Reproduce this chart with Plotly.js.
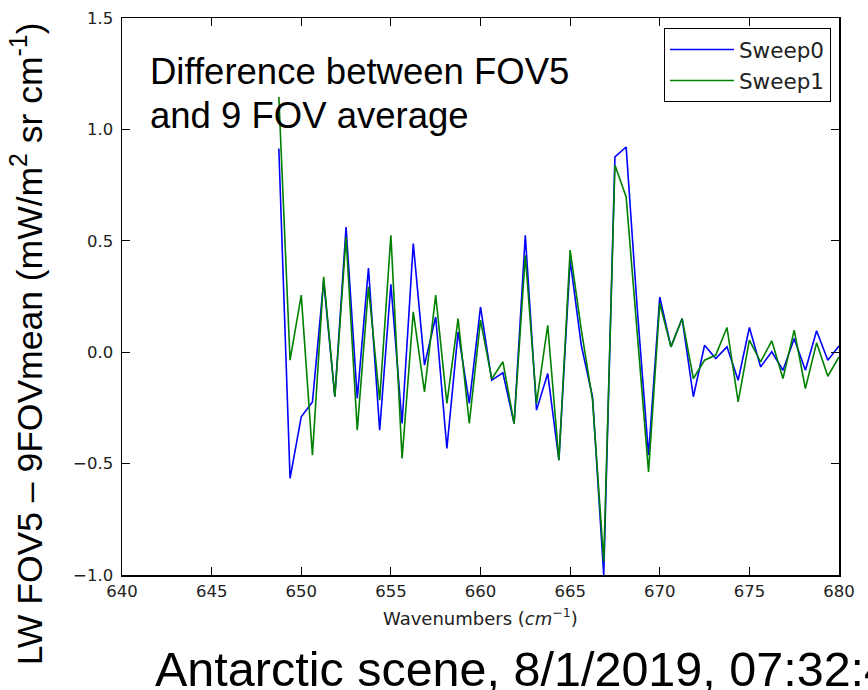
<!DOCTYPE html>
<html>
<head>
<meta charset="utf-8">
<script src="https://cdn.plot.ly/plotly-3.0.1.min.js"></script>
<style>
  html, body { margin: 0; padding: 0; background: #fff; }
  #chart { width: 868px; height: 690px; }
</style>
</head>
<body>
<div id="chart"></div>
<script>
// LW channel wavenumbers (cm^-1), 0.625 cm^-1 spacing
const wavenumbers = [
  648.75, 649.375, 650.0, 650.625, 651.25, 651.875, 652.5, 653.125, 653.75, 654.375,
  655.0, 655.625, 656.25, 656.875, 657.5, 658.125, 658.75, 659.375, 660.0, 660.625,
  661.25, 661.875, 662.5, 663.125, 663.75, 664.375, 665.0, 665.625, 666.25, 666.875,
  667.5, 668.125, 668.75, 669.375, 670.0, 670.625, 671.25, 671.875, 672.5, 673.125,
  673.75, 674.375, 675.0, 675.625, 676.25, 676.875, 677.5, 678.125, 678.75, 679.375,
  680.0
];

// FOV5 minus 9-FOV mean, sweep direction 0
const sweep0 = [
  0.914, -0.566, -0.29, -0.223, 0.32, -0.2, 0.562, -0.207, 0.378, -0.35,
  0.305, -0.32, 0.488, -0.058, 0.158, -0.432, 0.091, -0.23, 0.203, -0.126,
  -0.093, -0.32, 0.525, -0.26, -0.096, -0.485, 0.413, 0.03, -0.2, -1.0,
  0.877, 0.921, 0.19, -0.462, 0.248, 0.024, 0.151, -0.2, 0.031, -0.028,
  0.024, -0.126, 0.111, -0.066, 0.002, -0.081, 0.061, -0.081, 0.096, -0.036,
  0.028
];

// FOV5 minus 9-FOV mean, sweep direction 1
const sweep1 = [
  1.146, -0.036, 0.256, -0.462, 0.338, -0.2, 0.517, -0.35, 0.293, -0.215,
  0.525, -0.477, 0.181, -0.178, 0.256, -0.23, 0.151, -0.32, 0.144, -0.12,
  -0.043, -0.32, 0.435, -0.23, 0.121, -0.485, 0.458, 0.1, -0.215, -0.94,
  0.84, 0.697, 0.08, -0.537, 0.22, 0.024, 0.151, -0.118, -0.036, -0.013,
  0.111, -0.223, 0.054, -0.043, 0.051, -0.118, 0.099, -0.163, 0.042, -0.108,
  -0.021
];

const seriesNames = ['Sweep0', 'Sweep1'];
const xTickValues = [640, 645, 650, 655, 660, 665, 670, 675, 680];
const yTickValues = [-1.0, -0.5, 0.0, 0.5, 1.0, 1.5];

const tickFont = { family: 'DejaVu Sans, sans-serif', size: 16.5, color: '#222' };
const bigFont = 'Liberation Sans, Arial, sans-serif';

const traces = [
  { x: wavenumbers, y: sweep0, name: seriesNames[0], type: 'scatter', mode: 'lines',
    line: { color: '#0000ff', width: 1.6 } },
  { x: wavenumbers, y: sweep1, name: seriesNames[1], type: 'scatter', mode: 'lines',
    line: { color: '#008000', width: 1.6 } }
];

const axisCommon = {
  showline: true, linecolor: '#000', linewidth: 1.5, mirror: 'ticks',
  ticks: 'inside', ticklen: 8, tickwidth: 1, tickcolor: '#000',
  showgrid: false, zeroline: false, tickfont: tickFont
};

const layout = {
  width: 868, height: 690,
  margin: { l: 122, r: 29, t: 18, b: 115, pad: 0 },
  paper_bgcolor: '#fff', plot_bgcolor: '#fff',
  showlegend: true,
  legend: {
    x: 0.9888, y: 0.982, xanchor: 'right', yanchor: 'top',
    bgcolor: '#fff', bordercolor: '#000', borderwidth: 1,
    font: { family: 'DejaVu Sans, sans-serif', size: 21.5, color: '#222' },
    itemwidth: 64
  },
  xaxis: Object.assign({}, axisCommon, {
    range: [640, 680], tickvals: xTickValues, tickformat: 'd', ticklabelstandoff: 1
  }),
  yaxis: Object.assign({}, axisCommon, {
    range: [-1.0, 1.5], tickvals: yTickValues, tickformat: '.1f', ticklabelstandoff: 4
  }),
  annotations: [
    { xref: 'paper', yref: 'paper', x: 0.5, y: -0.0754, xanchor: 'center', yanchor: 'middle',
      text: 'Wavenumbers (<i>cm</i><sup>−1</sup>)', showarrow: false,
      font: { family: 'DejaVu Sans, sans-serif', size: 18, color: '#222' } },
    { xref: 'paper', yref: 'paper', x: -0.1325, y: 0.416, xanchor: 'center', yanchor: 'middle',
      textangle: -90, showarrow: false,
      text: 'LW FOV5 – 9FOVmean (mW/m<sup>2</sup> sr cm<sup>-1</sup>)',
      font: { family: bigFont, size: 35.5, color: '#000' } },
    { xref: 'paper', yref: 'paper', x: 0.0363, y: 0.9443, xanchor: 'left', yanchor: 'top',
      align: 'left', showarrow: false,
      text: 'Difference between FOV5',
      font: { family: bigFont, size: 36.5, color: '#000' } },
    { xref: 'paper', yref: 'paper', x: 0.0363, y: 0.8654, xanchor: 'left', yanchor: 'top',
      align: 'left', showarrow: false,
      text: 'and 9 FOV average',
      font: { family: bigFont, size: 36.5, color: '#000' } },
    { xref: 'paper', yref: 'paper', x: 0.043, y: -0.2217, xanchor: 'left', yanchor: 'bottom',
      showarrow: false,
      text: 'Antarctic scene, 8/1/2019, 07:32:4',
      font: { family: bigFont, size: 48.5, color: '#000' } }
  ]
};

Plotly.newPlot('chart', traces, layout, { staticPlot: true, displayModeBar: false });
</script>
</body>
</html>
